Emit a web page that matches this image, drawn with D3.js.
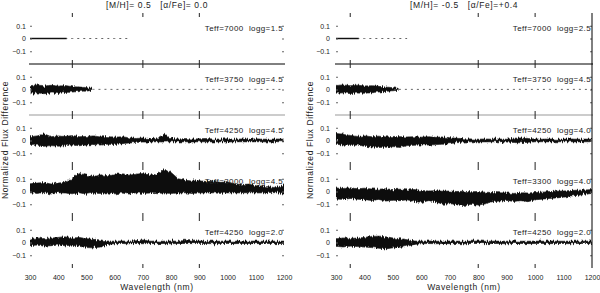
<!DOCTYPE html>
<html>
<head>
<meta charset="utf-8">
<script src="https://cdn.jsdelivr.net/npm/d3@7"></script>
<style>
  html, body { margin: 0; padding: 0; background: #fff; }
  svg { display: block; }
  text { font-family: "Liberation Sans", Arial, sans-serif; fill: #222; white-space: pre; }
  .tick text { font-size: 7px; }
  .lbl { font-size: 8px; letter-spacing: 0.4px; }
  .ttl { font-size: 8.5px; letter-spacing: 0.6px; }
</style>
</head>
<body>
<svg id="chart" width="600" height="293"></svg>
<script>
// wavelength grid (nm) on which the band envelopes were read
const wave = [300, 325, 350, 375, 400, 425, 450, 475, 500, 525, 550, 575, 600, 625, 650, 675, 700, 725, 750,
  775, 800, 825, 850, 875, 900, 925, 950, 975, 1000, 1025, 1050, 1075, 1100, 1125, 1150, 1175, 1200];

const xTicks = [300, 400, 500, 600, 700, 800, 900, 1000, 1100, 1200];
const yTicks = [-0.1, 0, 0.1];

const leftTitle = '[M/H]= 0.5   [\u03b1/Fe]= 0.0';
const rightTitle = '[M/H]= -0.5   [\u03b1/Fe]=+0.4';
const leftLabels = ['Teff=7000  logg=1.5', 'Teff=3750  logg=4.5', 'Teff=4250  logg=4.5', 'Teff=3000  logg=4.5', 'Teff=4250  logg=2.0'];
const rightLabels = ['Teff=7000  logg=2.5', 'Teff=3750  logg=4.5', 'Teff=4250  logg=4.0', 'Teff=3300  logg=4.0', 'Teff=4250  logg=2.0'];
const leftMarks = [450, 700, 900];
const rightMarks = [350, 800, 1000];

// where the dense band ends and where the sparse dotted trace ends (nm)
const leftSolidTo = [430, 520, 1200, 1200, 1200];
const leftDashTo = [650, 1200, 1200, 1200, 1200];
const rightSolidTo = [380, 520, 1200, 1200, 1200];
const rightDashTo = [560, 1200, 1200, 1200, 1200];

// upper / lower envelope of the flux difference, left column
const L1_hi = [.003,.003,.003,.003,.003,.003,.003,.003,.003,.003,.003,.003,.003,.003,.003,.003,.003,.003,.003,.003,.003,.003,.003,.003,.003,.003,.003,.003,.003,.003,.003,.003,.003,.003,.003,.003,.003];
const L1_lo = [-.003,-.003,-.003,-.003,-.003,-.003,-.003,-.003,-.003,-.003,-.003,-.003,-.003,-.003,-.003,-.003,-.003,-.003,-.003,-.003,-.003,-.003,-.003,-.003,-.003,-.003,-.003,-.003,-.003,-.003,-.003,-.003,-.003,-.003,-.003,-.003,-.003];
const L2_hi = [.030,.036,.028,.033,.026,.031,.022,.020,.014,.008,.006,.007,.005,.006,.005,.006,.005,.006,.007,.005,.006,.005,.006,.005,.007,.005,.006,.005,.006,.005,.006,.005,.007,.005,.006,.005,.006];
const L2_lo = [-.030,-.026,-.033,-.028,-.031,-.024,-.020,-.016,-.012,-.006,-.004,-.004,-.004,-.004,-.004,-.004,-.004,-.004,-.004,-.004,-.004,-.004,-.004,-.004,-.004,-.004,-.004,-.004,-.004,-.004,-.004,-.004,-.004,-.004,-.004,-.004,-.004];
const L3_hi = [.030,.036,.052,.030,.036,.031,.040,.030,.032,.036,.028,.031,.026,.030,.022,.016,.020,.015,.018,.050,.016,.012,.015,.012,.013,.016,.010,.012,.013,.010,.012,.010,.013,.010,.011,.012,.010];
const L3_lo = [-.040,-.036,-.046,-.040,-.045,-.040,-.036,-.041,-.035,-.031,-.036,-.030,-.031,-.025,-.020,-.015,-.012,-.012,-.010,-.012,-.010,-.011,-.010,-.012,-.010,-.010,-.011,-.010,-.012,-.010,-.010,-.011,-.010,-.010,-.012,-.010,-.010];
const L4_hi = [.060,.066,.071,.058,.066,.072,.100,.142,.128,.118,.132,.124,.131,.141,.128,.136,.142,.129,.136,.172,.150,.100,.088,.082,.085,.078,.080,.072,.075,.060,.055,.058,.045,.042,.036,.030,.060];
const L4_lo = [-.010,-.015,-.008,-.020,-.010,-.012,-.018,-.010,-.022,-.012,-.015,-.010,-.018,-.012,-.020,-.010,-.015,-.012,-.018,-.010,-.015,-.012,-.010,-.016,-.010,-.012,-.010,-.015,-.010,-.012,-.010,-.010,-.012,-.010,-.008,-.010,-.020];
const L5_hi = [.030,.036,.030,.036,.040,.046,.036,.040,.030,.025,.020,.012,.010,.012,.010,.014,.020,.010,.012,.010,.012,.010,.018,.010,.012,.010,.011,.010,.012,.010,.013,.010,.011,.010,.012,.010,.011];
const L5_lo = [-.025,-.020,-.028,-.025,-.020,-.026,-.020,-.030,-.040,-.042,-.035,-.015,-.010,-.008,-.010,-.008,-.010,-.008,-.009,-.008,-.010,-.008,-.008,-.009,-.008,-.008,-.010,-.008,-.008,-.009,-.008,-.008,-.009,-.008,-.008,-.009,-.008];

// right column
const R1_hi = [.003,.003,.003,.003,.003,.003,.003,.003,.003,.003,.003,.003,.003,.003,.003,.003,.003,.003,.003,.003,.003,.003,.003,.003,.003,.003,.003,.003,.003,.003,.003,.003,.003,.003,.003,.003,.003];
const R1_lo = [-.003,-.003,-.003,-.003,-.003,-.003,-.003,-.003,-.003,-.003,-.003,-.003,-.003,-.003,-.003,-.003,-.003,-.003,-.003,-.003,-.003,-.003,-.003,-.003,-.003,-.003,-.003,-.003,-.003,-.003,-.003,-.003,-.003,-.003,-.003,-.003,-.003];
const R2_hi = [.032,.036,.030,.034,.028,.030,.025,.020,.014,.008,.006,.006,.005,.006,.005,.007,.005,.006,.005,.006,.007,.005,.006,.005,.006,.005,.007,.005,.006,.005,.006,.005,.006,.005,.007,.005,.006];
const R2_lo = [-.030,-.026,-.032,-.028,-.030,-.025,-.020,-.015,-.010,-.006,-.004,-.004,-.004,-.004,-.004,-.004,-.004,-.004,-.004,-.004,-.004,-.004,-.004,-.004,-.004,-.004,-.004,-.004,-.004,-.004,-.004,-.004,-.004,-.004,-.004,-.004,-.004];
const R3_hi = [.055,.050,.040,.032,.036,.030,.034,.028,.032,.030,.028,.030,.026,.030,.025,.028,.022,.018,.014,.012,.010,.012,.010,.012,.010,.018,.020,.016,.012,.010,.012,.010,.011,.012,.010,.011,.010];
const R3_lo = [-.030,-.035,-.040,-.036,-.045,-.050,-.055,-.052,-.048,-.055,-.040,-.038,-.035,-.036,-.032,-.030,-.025,-.018,-.012,-.010,-.010,-.011,-.010,-.010,-.012,-.016,-.018,-.014,-.010,-.010,-.011,-.010,-.010,-.010,-.011,-.010,-.010];
const R4_hi = [.028,.024,.030,.022,.026,.020,.018,.022,.015,.018,.012,.015,.008,.004,.006,.002,.004,.000,.002,-.002,.000,-.005,-.008,-.010,-.012,-.015,-.010,-.012,-.008,-.005,.000,.002,.004,.008,.010,.012,.015];
const R4_lo = [-.058,-.062,-.055,-.060,-.064,-.070,-.062,-.075,-.068,-.072,-.065,-.078,-.085,-.072,-.080,-.100,-.095,-.105,-.110,-.100,-.108,-.095,-.080,-.075,-.070,-.078,-.072,-.080,-.065,-.060,-.055,-.050,-.045,-.035,-.030,-.022,-.015];
const R5_hi = [.030,.036,.032,.035,.040,.048,.050,.045,.036,.030,.022,.012,.010,.012,.010,.011,.012,.010,.011,.010,.012,.010,.010,.011,.010,.012,.010,.010,.011,.010,.012,.010,.010,.011,.010,.010,.012];
const R5_lo = [-.030,-.035,-.028,-.032,-.036,-.040,-.045,-.050,-.042,-.038,-.030,-.015,-.010,-.008,-.010,-.008,-.009,-.008,-.010,-.008,-.008,-.009,-.008,-.008,-.010,-.008,-.008,-.009,-.008,-.008,-.009,-.008,-.008,-.010,-.008,-.008,-.009];

const leftHi = [L1_hi, L2_hi, L3_hi, L4_hi, L5_hi], leftLo = [L1_lo, L2_lo, L3_lo, L4_lo, L5_lo];
const rightHi = [R1_hi, R2_hi, R3_hi, R4_hi, R5_hi], rightLo = [R1_lo, R2_lo, R3_lo, R4_lo, R5_lo];

const svg = d3.select('#chart');
const TOP = 13, PH = 51, NP = 5;

// the spectra are dense noise: roughen the band edges so they read like it
const rough = svg.append('defs').append('filter').attr('id', 'rough')
  .attr('filterUnits', 'userSpaceOnUse').attr('x', 0).attr('y', 0).attr('width', 600).attr('height', 293);
rough.append('feTurbulence').attr('type', 'fractalNoise').attr('baseFrequency', '0.9 0.06')
  .attr('numOctaves', 2).attr('seed', 4).attr('result', 'n');
rough.append('feDisplacementMap').attr('in', 'SourceGraphic').attr('in2', 'n')
  .attr('scale', 5).attr('xChannelSelector', 'R').attr('yChannelSelector', 'G');

function drawFigure(o) {
  const x = d3.scaleLinear().domain([300, 1200]).range([o.x0, o.x1]);
  const g = svg.append('g');

  for (let i = 0; i < NP; i++) {
    const top = TOP + i * PH;
    const y = d3.scaleLinear().domain([-0.2, 0.2]).range([top + PH, top]);
    const pts = wave.map((w, k) => ({ w, hi: o.hi[i][k], lo: o.lo[i][k] }));

    // dense band
    svg.append('clipPath').attr('id', `clip-${o.id}-${i}`)
      .append('rect').attr('x', o.x0).attr('y', top)
      .attr('width', x(o.solidTo[i]) - o.x0).attr('height', PH);
    const band = pts.filter(d => d.w <= o.solidTo[i] + 25);
    g.append('g').attr('clip-path', `url(#clip-${o.id}-${i})`)
      .append('path')
      .datum(band)
      .attr('fill', '#111').attr('stroke', '#111').attr('stroke-width', 0.6)
      .attr('filter', i === 0 ? null : 'url(#rough)')
      .attr('d', d3.area().x(d => x(d.w)).y0(d => y(d.lo)).y1(d => y(d.hi)));

    // sparse dotted continuation
    if (o.dashTo[i] > o.solidTo[i]) {
      svg.append('clipPath').attr('id', `clipd-${o.id}-${i}`)
        .append('rect').attr('x', x(o.solidTo[i])).attr('y', top)
        .attr('width', x(o.dashTo[i]) - x(o.solidTo[i])).attr('height', PH);
      const tail = pts.filter(d => d.w >= o.solidTo[i] - 25 && d.w <= o.dashTo[i]);
      g.append('path')
        .datum(tail)
        .attr('fill', 'none').attr('stroke', '#666').attr('stroke-width', 1)
        .attr('stroke-dasharray', '2,4')
        .attr('clip-path', `url(#clipd-${o.id}-${i})`)
        .attr('d', d3.line().x(d => x(d.w)).y(d => y((d.hi + d.lo) / 2)));
    }

    // y axis labels + small inner ticks
    const ya = g.append('g').attr('transform', `translate(${o.x0},0)`)
      .call(d3.axisLeft(y).tickValues(yTicks).tickSize(-2).tickPadding(o.pad)
        .tickFormat(d => d === 0 ? '0' : d3.format('.1f')(d)));
    ya.select('.domain').remove();
    ya.selectAll('line').attr('stroke', '#666');
    const yb = g.append('g').attr('transform', `translate(${o.x1},0)`)
      .call(d3.axisRight(y).tickValues(yTicks).tickSize(-2).tickFormat(''));
    yb.select('.domain').remove();
    yb.selectAll('line').attr('stroke', '#666');

    g.append('text').attr('class', 'lbl')
      .attr('x', o.x1 - 1).attr('y', top + 18)
      .attr('text-anchor', 'end').text(o.labels[i]);
  }

  // panel separators
  g.append('line').attr('x1', o.x0 - 1).attr('x2', o.x1 + 1)
    .attr('y1', TOP + PH).attr('y2', TOP + PH).attr('stroke', '#000').attr('stroke-width', 1);
  g.append('line').attr('x1', o.x0 - 1).attr('x2', o.x1 + 1)
    .attr('y1', TOP + 2 * PH).attr('y2', TOP + 2 * PH).attr('stroke', '#999').attr('stroke-width', 1);
  if (o.border) {
    g.append('line').attr('x1', o.x1).attr('x2', o.x1)
      .attr('y1', TOP).attr('y2', TOP + NP * PH).attr('stroke', '#000').attr('stroke-width', 1);
  }

  // marker ticks at the special wavelengths on every panel edge
  for (let b = 0; b <= NP; b++) {
    const yb = TOP + b * PH;
    const y1 = b === 0 ? yb : yb - 4, y2 = b === NP ? yb : yb + 4;
    o.marks.forEach(m => {
      g.append('line').attr('x1', x(m)).attr('x2', x(m)).attr('y1', y1).attr('y2', y2)
        .attr('stroke', '#222').attr('stroke-width', 1);
    });
  }

  // x axis
  const xa = g.append('g').attr('transform', `translate(0,${TOP + NP * PH})`)
    .call(d3.axisBottom(x).tickValues(xTicks).tickSize(0).tickPadding(7).tickFormat(d3.format('d')));
  xa.select('.domain').remove();

  g.append('text').attr('class', 'ttl').attr('text-anchor', 'middle')
    .attr('x', (o.x0 + o.x1) / 2).attr('y', 290).text('Wavelength (nm)');
  g.append('text').attr('class', 'ttl').attr('text-anchor', 'middle')
    .attr('x', (o.x0 + o.x1) / 2).attr('y', 8).text(o.title);
  g.append('text').attr('class', 'ttl').attr('text-anchor', 'middle')
    .attr('transform', `translate(${o.ylabX},140) rotate(-90)`).text('Normalized Flux Difference');
}

drawFigure({ id: 'l', x0: 30, x1: 284, hi: leftHi, lo: leftLo, solidTo: leftSolidTo, dashTo: leftDashTo,
  labels: leftLabels, marks: leftMarks, title: leftTitle, pad: 4, border: false, ylabX: 8 });
drawFigure({ id: 'r', x0: 336, x1: 592, hi: rightHi, lo: rightLo, solidTo: rightSolidTo, dashTo: rightDashTo,
  labels: rightLabels, marks: rightMarks, title: rightTitle, pad: 6, border: true, ylabX: 313 });
</script>
</body>
</html>
